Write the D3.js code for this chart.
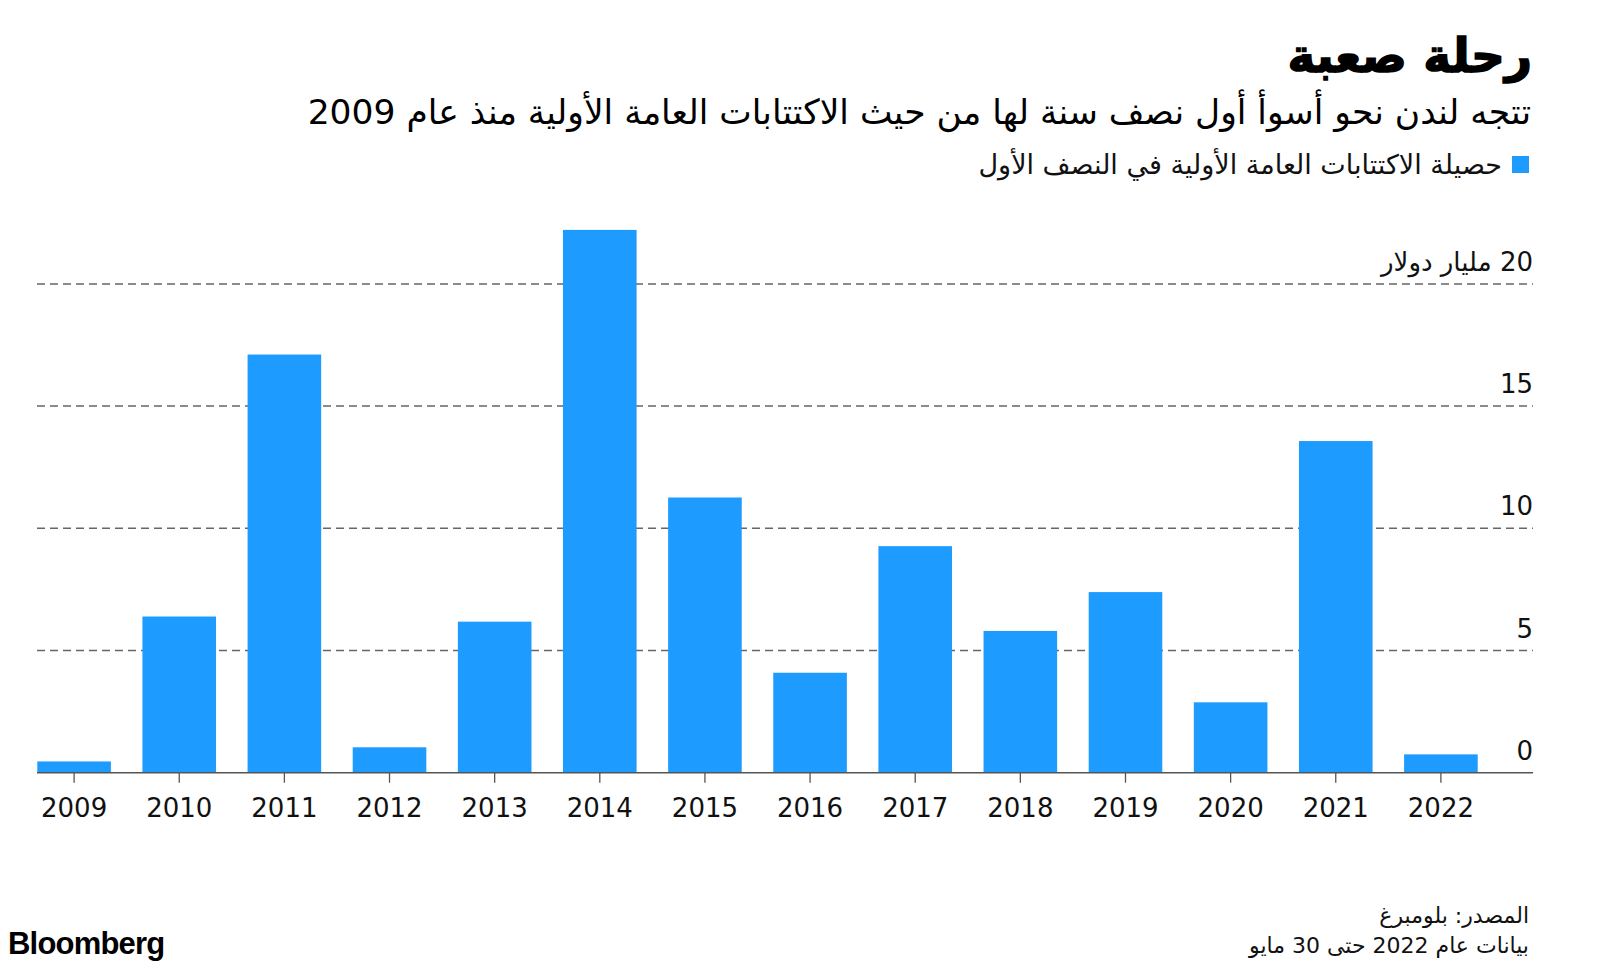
<!DOCTYPE html>
<html><head><meta charset="utf-8">
<script src="https://cdn.jsdelivr.net/npm/d3@7"></script>
<style>
html,body{margin:0;padding:0;background:#fff;}
svg{display:block;}
</style></head>
<body>
<svg id="chart" width="1600" height="974"></svg>
<script>
const years = ["2009","2010","2011","2012","2013","2014","2015","2016","2017","2018","2019","2020","2021","2022"];
const proceeds = [0.46, 6.39, 17.11, 1.04, 6.18, 22.21, 11.26, 4.09, 9.27, 5.80, 7.39, 2.88, 13.57, 0.75];
const yTicks = [0, 5, 10, 15, 20];
const yTickLabels = ["0", "5", "10", "15", "20 مليار دولار"];
const title = "رحلة صعبة";
const subtitle = "تتجه لندن نحو أسوأ أول نصف سنة لها من حيث الاكتتابات العامة الأولية منذ عام 2009";
const legendLabel = "حصيلة الاكتتابات العامة الأولية في النصف الأول";
const sourceLines = ["المصدر: بلومبرغ", "بيانات عام 2022 حتى 30 مايو"];

const svg = d3.select("#chart");
const blue = "#1e9bff";
const arabicFont = "'DejaVu Sans', sans-serif";
const numFont = "'DejaVu Sans', sans-serif";

const x = d3.scaleBand().domain(years).range([37.3, 1477.7]).paddingInner(0.3).paddingOuter(0);
const y = d3.scaleLinear().domain([0, 20]).range([772.7, 283.9]);

// gridlines
svg.append("g").selectAll("line").data(yTicks.filter(d => d > 0)).join("line")
  .attr("x1", 37).attr("x2", 1533)
  .attr("y1", d => y(d)).attr("y2", d => y(d))
  .attr("stroke", "#666").attr("stroke-width", 1.5)
  .attr("stroke-dasharray", "8,5");

// y labels
svg.append("g").selectAll("text").data(yTicks).join("text")
  .attr("x", 1533).attr("y", d => y(d) - 13)
  .attr("direction", "rtl").attr("text-anchor", "start")
  .attr("font-family", numFont).attr("font-size", 26).attr("fill", "#111")
  .text((d, i) => yTickLabels[i]);

// bars
svg.append("g").selectAll("rect").data(proceeds).join("rect")
  .attr("x", (d, i) => x(years[i]))
  .attr("width", x.bandwidth())
  .attr("y", d => y(d))
  .attr("height", d => y(0) - y(d))
  .attr("fill", blue);

// x axis
const xAxis = d3.axisBottom(x).tickSize(10).tickPadding(16).tickSizeOuter(0);
const gx = svg.append("g").attr("transform", `translate(0,${y(0)})`).call(xAxis);
gx.select(".domain").remove();
gx.selectAll(".tick line").attr("stroke", "#555").attr("stroke-width", 1.3);
gx.selectAll(".tick text").attr("font-family", numFont).attr("font-size", 26).attr("fill", "#111");
svg.append("line").attr("x1", 37).attr("x2", 1533).attr("y1", y(0)).attr("y2", y(0))
  .attr("stroke", "#555").attr("stroke-width", 1.5);

// title
svg.append("text").attr("x", 1532).attr("y", 72)
  .attr("direction", "rtl").attr("text-anchor", "start")
  .attr("font-family", arabicFont).attr("font-weight", "bold").attr("font-size", 47)
  .attr("stroke", "#000").attr("stroke-width", 1.5)
  .attr("fill", "#000").text(title);

svg.append("text").attr("x", 1531).attr("y", 124)
  .attr("direction", "rtl").attr("text-anchor", "start")
  .attr("font-family", arabicFont).attr("font-size", 34.5)
  .attr("fill", "#000").text(subtitle);

// legend
svg.append("rect").attr("x", 1512).attr("y", 156).attr("width", 17).attr("height", 17).attr("fill", blue);
svg.append("text").attr("x", 1502).attr("y", 174)
  .attr("direction", "rtl").attr("text-anchor", "start")
  .attr("font-family", arabicFont).attr("font-size", 27)
  .attr("fill", "#111").text(legendLabel);

// footer
svg.append("g").selectAll("text").data(sourceLines).join("text")
  .attr("x", 1529).attr("y", (d, i) => 923 + i * 30)
  .attr("direction", "rtl").attr("text-anchor", "start")
  .attr("font-family", arabicFont).attr("font-size", 22)
  .attr("fill", "#111").text(d => d);

svg.append("text").attr("x", 8).attr("y", 954)
  .attr("font-family", "'Liberation Sans', Arial, sans-serif").attr("font-weight", "bold")
  .attr("font-size", 31).attr("letter-spacing", -0.8).attr("fill", "#000").text("Bloomberg");
</script>
</body></html>
